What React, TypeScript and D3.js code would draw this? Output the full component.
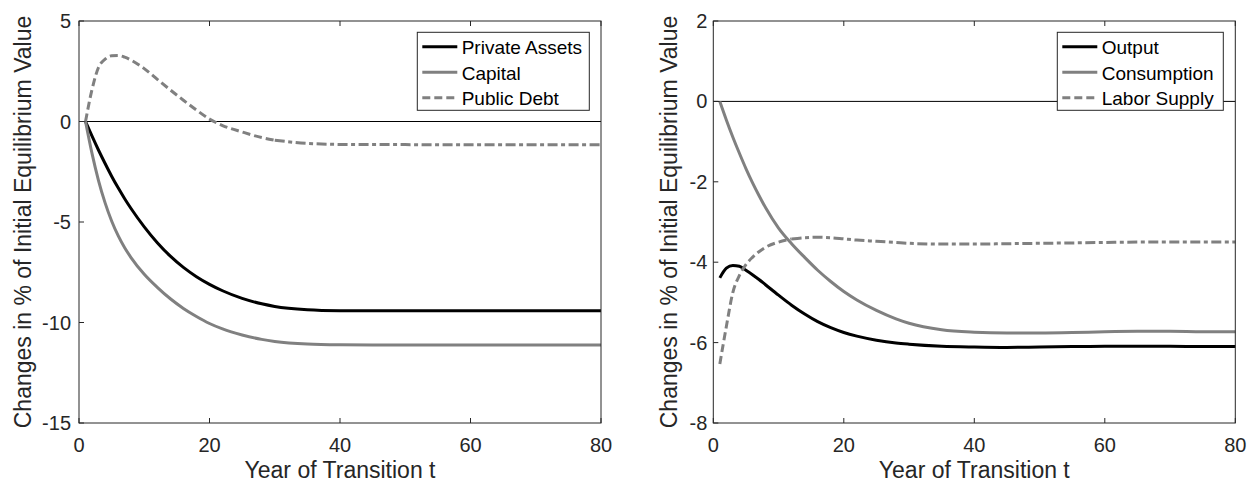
import React from 'react';
import * as d3 from 'd3';

// ---------- data ----------
const years = [1, 2, 3, 4, 5, 6, 7, 8, 10, 12, 14, 16, 18, 20, 22, 25, 28, 30, 35, 40, 45, 50, 55, 60, 65, 70, 75, 80];

const privateAssets = [0, -0.73, -1.43, -2.09, -2.72, -3.3, -3.84, -4.34, -5.24, -6.03, -6.7, -7.26, -7.72, -8.1, -8.42, -8.8, -9.07, -9.2, -9.36, -9.41, -9.42, -9.42, -9.42, -9.42, -9.42, -9.42, -9.42, -9.42];
const capital = [0, -1.6, -2.95, -4.05, -4.95, -5.68, -6.28, -6.78, -7.6, -8.25, -8.82, -9.3, -9.7, -10.05, -10.32, -10.62, -10.84, -10.94, -11.07, -11.11, -11.12, -11.12, -11.12, -11.12, -11.12, -11.12, -11.12, -11.12];
const publicDebt = [0, 1.6, 2.7, 3.1, 3.27, 3.28, 3.2, 3.05, 2.63, 2.1, 1.57, 1.06, 0.57, 0.12, -0.2, -0.52, -0.8, -0.93, -1.09, -1.14, -1.15, -1.15, -1.16, -1.16, -1.16, -1.16, -1.16, -1.16];

const output = [-4.39, -4.15, -4.08, -4.1, -4.2, -4.31, -4.43, -4.56, -4.82, -5.07, -5.29, -5.48, -5.63, -5.75, -5.84, -5.94, -6.01, -6.04, -6.09, -6.11, -6.12, -6.11, -6.1, -6.09, -6.09, -6.09, -6.1, -6.1];
const consumption = [0, -0.46, -0.89, -1.29, -1.67, -2.02, -2.34, -2.64, -3.15, -3.54, -3.88, -4.2, -4.48, -4.73, -4.94, -5.2, -5.41, -5.52, -5.68, -5.74, -5.76, -5.76, -5.75, -5.73, -5.72, -5.72, -5.73, -5.73];
const laborSupply = [-6.53, -5.6, -4.75, -4.33, -4.06, -3.88, -3.74, -3.63, -3.5, -3.42, -3.39, -3.38, -3.39, -3.42, -3.45, -3.48, -3.51, -3.53, -3.55, -3.55, -3.54, -3.53, -3.52, -3.51, -3.5, -3.5, -3.5, -3.5];

const xTicks = [0, 20, 40, 60, 80];
const leftYTicks = [-15, -10, -5, 0, 5];
const rightYTicks = [-8, -6, -4, -2, 0, 2];

const leftNames = ['Private Assets', 'Capital', 'Public Debt'];
const rightNames = ['Output', 'Consumption', 'Labor Supply'];

const xLabel = 'Year of Transition t';
const yLabel = 'Changes in % of Initial Equilibrium Value';

// ---------- styles ----------
const FONT = '"Liberation Sans", Arial, Helvetica, sans-serif';
const AXIS = '#262626';
const GRAY = '#808080';

type Series = { name: string; values: number[]; color: string; dashed: boolean; split: number };

type PanelProps = {
  x0: number;
  x1: number;
  yDomain: [number, number];
  yTicks: number[];
  series: Series[];
  legendX: number;
  legendW: number;
  yLabelX: number;
  tickGap: number;
};

const TOP = 21;
const BOTTOM = 423;

function Panel({ x0, x1, yDomain, yTicks, series, legendX, legendW, yLabelX, tickGap }: PanelProps) {
  const x = d3.scaleLinear().domain([0, 80]).range([x0, x1]);
  const y = d3.scaleLinear().domain(yDomain).range([BOTTOM, TOP]);
  const line = d3
    .line<[number, number]>()
    .x((d) => x(d[0]))
    .y((d) => y(d[1]))
    .curve(d3.curveMonotoneX);

  const tickLen = 5;
  const cx = (x0 + x1) / 2;
  const cy = (TOP + BOTTOM) / 2;

  const legendY = 32.3;
  const rowH = 25.5;

  return (
    <g>
      {/* zero line */}
      <line x1={x(0)} x2={x(80)} y1={y(0)} y2={y(0)} stroke="#000" strokeWidth={1} />
      {/* series */}
      {series.map((s) => {
        const pts: [number, number][] = years.map((t, i) => [t, s.values[i]]);
        if (!s.dashed) {
          return <path key={s.name} d={line(pts) || ''} fill="none" stroke={s.color} strokeWidth={3} strokeLinejoin="round" />;
        }
        const a = pts.filter((p) => p[0] <= s.split);
        const b = pts.filter((p) => p[0] >= s.split);
        return (
          <g key={s.name}>
            <path d={line(a) || ''} fill="none" stroke={s.color} strokeWidth={3} strokeDasharray="8,4" />
            <path d={line(b) || ''} fill="none" stroke={s.color} strokeWidth={3} strokeDasharray="10,3.5,4,3.5" />
          </g>
        );
      })}
      {/* frame */}
      <rect x={x0} y={TOP} width={x1 - x0} height={BOTTOM - TOP} fill="none" stroke={AXIS} strokeWidth={1} />
      {/* x ticks */}
      {xTicks.map((t) => (
        <g key={'xt' + t}>
          <line x1={x(t)} x2={x(t)} y1={BOTTOM} y2={BOTTOM - tickLen} stroke={AXIS} />
          <line x1={x(t)} x2={x(t)} y1={TOP} y2={TOP + tickLen} stroke={AXIS} />
          <text x={x(t)} y={452} textAnchor="middle" fontFamily={FONT} fontSize={20} fill={AXIS}>
            {t}
          </text>
        </g>
      ))}
      {/* y ticks */}
      {yTicks.map((v) => (
        <g key={'yt' + v}>
          <line x1={x0} x2={x0 + tickLen} y1={y(v)} y2={y(v)} stroke={AXIS} />
          <text x={x0 - tickGap} y={y(v)} dy="0.35em" textAnchor="end" fontFamily={FONT} fontSize={20} fill={AXIS}>
            {v}
          </text>
        </g>
      ))}
      {/* axis labels */}
      <text x={cx} y={478} textAnchor="middle" fontFamily={FONT} fontSize={23} fill={AXIS}>
        {xLabel}
      </text>
      <text
        transform={`translate(${yLabelX},${cy}) rotate(-90)`}
        textAnchor="middle"
        fontFamily={FONT}
        fontSize={23}
        fill={AXIS}
      >
        {yLabel}
      </text>
      {/* legend */}
      <rect x={legendX} y={legendY} width={legendW} height={78} fill="#fff" stroke={AXIS} strokeWidth={1} />
      {series.map((s, i) => {
        const by = legendY + 21.7 + i * rowH;
        return (
          <g key={'lg' + s.name}>
            <line
              x1={legendX + 5}
              x2={legendX + 40}
              y1={by - 7.3}
              y2={by - 7.3}
              stroke={s.color}
              strokeWidth={3}
              strokeDasharray={s.dashed ? '8,4' : undefined}
            />
            <text x={legendX + 44.4} y={by} fontFamily={FONT} fontSize={19} fill="#000">
              {s.name}
            </text>
          </g>
        );
      })}
    </g>
  );
}

export default function App() {
  const leftSeries: Series[] = [
    { name: leftNames[0], values: privateAssets, color: '#000', dashed: false, split: 0 },
    { name: leftNames[1], values: capital, color: GRAY, dashed: false, split: 0 },
    { name: leftNames[2], values: publicDebt, color: GRAY, dashed: true, split: 30 },
  ];
  const rightSeries: Series[] = [
    { name: rightNames[0], values: output, color: '#000', dashed: false, split: 0 },
    { name: rightNames[1], values: consumption, color: GRAY, dashed: false, split: 0 },
    { name: rightNames[2], values: laborSupply, color: GRAY, dashed: true, split: 12 },
  ];
  return (
    <div style={{ position: 'absolute', left: 0, top: 0 }}>
      <svg width={1249} height={483} style={{ display: 'block', background: '#fff' }}>
        <Panel
          x0={79}
          x1={601}
          yDomain={[-15, 5]}
          yTicks={leftYTicks}
          series={leftSeries}
          legendX={417.3}
          legendW={172}
          yLabelX={31}
          tickGap={8}
        />
        <Panel
          x0={713.3}
          x1={1235.3}
          yDomain={[-8, 2]}
          yTicks={rightYTicks}
          series={rightSeries}
          legendX={1057.3}
          legendW={166}
          yLabelX={677}
          tickGap={6}
        />
      </svg>
    </div>
  );
}
